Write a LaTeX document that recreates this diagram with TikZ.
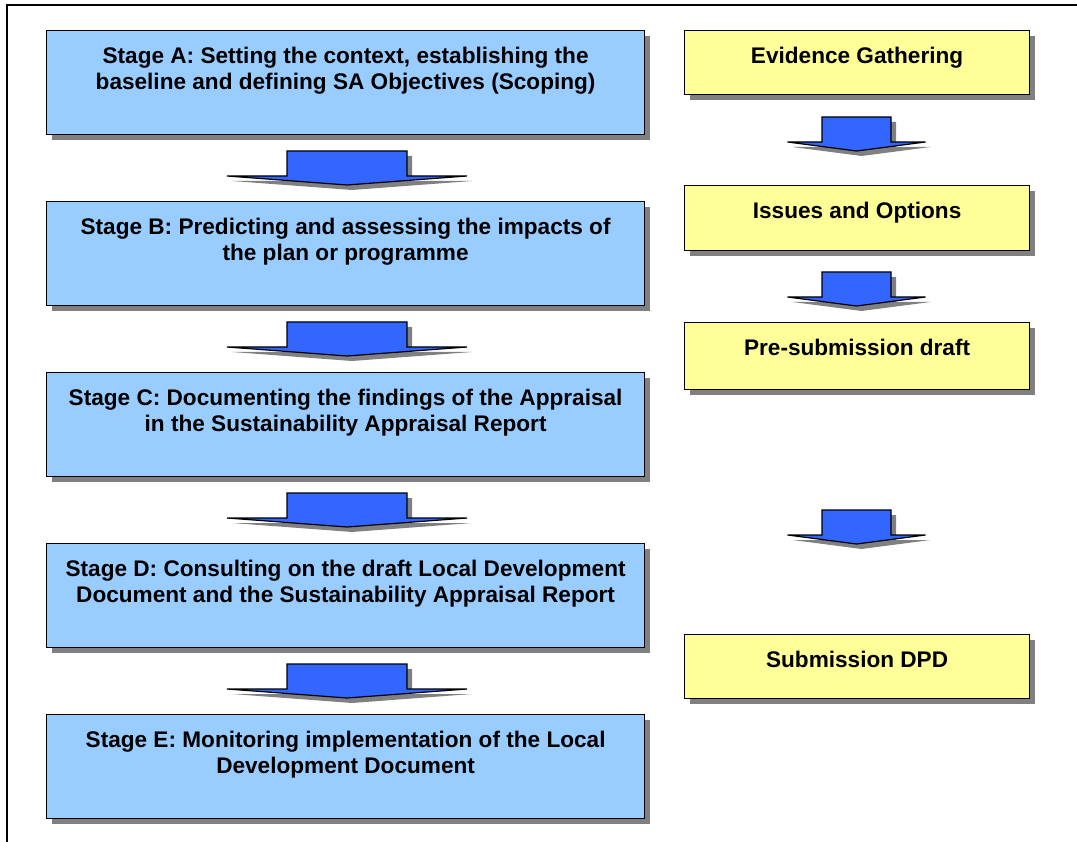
\documentclass[tikz,border=0pt]{standalone}
\usepackage{fontspec}
\setmainfont{Liberation Sans}
\usetikzlibrary{positioning,shadows}

\definecolor{stageblue}{HTML}{99CCFF}
\definecolor{docyellow}{HTML}{FFFF99}
\definecolor{arrowblue}{HTML}{3366FF}
\definecolor{shadowgray}{HTML}{808080}

\tikzstyle{box}=[draw, line width=1.2pt, anchor=north west, inner sep=0,
  drop shadow={shadow xshift=5pt, shadow yshift=-5pt, fill=shadowgray, opacity=1}]
\tikzstyle{stage}=[box, fill=stageblue, minimum width=598pt, minimum height=104pt]
\tikzstyle{doc}=[box, fill=docyellow, minimum width=345pt, minimum height=64pt]
\tikzstyle{boxtext}=[inner sep=0, align=center, font=\bfseries\fontsize{22.6}{26}\selectfont]
\tikzstyle{blockarrow}=[draw, fill=arrowblue, line width=1.2pt, line join=miter]

\begin{document}
\begin{tikzpicture}[x=1pt, y=-1pt]
      \useasboundingbox (0,0) rectangle (1077,842);
      \draw[line width=2pt] (7,842) -- (7,5) -- (1077,5);

      % stages
      \node[stage] (A) at (46,30) {};
      \node[stage] (B) at (46,201) {};
      \node[stage] (C) at (46,372) {};
      \node[stage] (D) at (46,543) {};
      \node[stage] (E) at (46,714) {};

      \node[boxtext, below=17pt of A.north] (At) {Stage A: Setting the context, establishing the\\baseline and defining SA Objectives (Scoping)};
      \node[boxtext, below=17pt of B.north] (Bt) {Stage B: Predicting and assessing the impacts of\\the plan or programme};
      \node[boxtext, below=17pt of C.north] (Ct) {Stage C: Documenting the findings of the Appraisal\\in the Sustainability Appraisal Report};
      \node[boxtext, below=17pt of D.north] (Dt) {Stage D: Consulting on the draft Local Development\\Document and the Sustainability Appraisal Report};
      \node[boxtext, below=17pt of E.north] (Et) {Stage E: Monitoring implementation of the Local\\Development Document};

      % documents
      \node[doc] (ev) at (684,30) {};
      \node[doc, minimum height=65pt] (io) at (684,185) {};
      \node[doc, minimum height=67pt] (pre) at (684,322) {};
      \node[doc] (sub) at (684,634) {};

      \node[boxtext, below=17pt of ev.north] (evt) {Evidence Gathering};
      \node[boxtext, below=17pt of io.north] (iot) {Issues and Options};
      \node[boxtext, below=17pt of pre.north] (pret) {Pre-submission draft};
      \node[boxtext, below=17pt of sub.north] (subt) {Submission DPD};

      % block arrows
      \foreach \cx/\ty/\hw in {347/151/60, 347/322/60, 347/493/60, 347/664/60,
                               856.5/117/34.5, 856.5/272/34.5, 856.5/510/34.5} {
        \begin{scope}[shift={(\cx,\ty)}]
          \fill[shadowgray, shift={(5,5)}] (-\hw,0) -- (\hw,0) -- (\hw,25) -- (2*\hw,25)
            -- (0,34) -- (-2*\hw,25) -- (-\hw,25) -- cycle;
          \draw[blockarrow] (-\hw,0) -- (\hw,0) -- (\hw,25) -- (2*\hw,25)
            -- (0,34) -- (-2*\hw,25) -- (-\hw,25) -- cycle;
        \end{scope}
      }
    \end{tikzpicture}
\end{document}
